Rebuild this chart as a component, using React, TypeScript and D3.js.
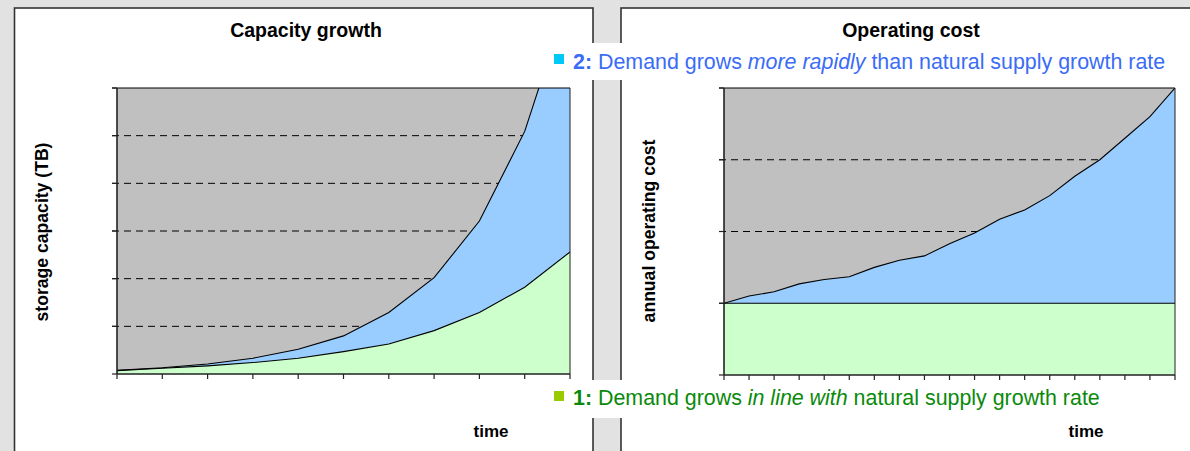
import React from "react";
import * as d3 from "d3";

// ---- Data ----
// Left chart: capacity growth (11 time steps)
const capTime = [0, 1, 2, 3, 4, 5, 6, 7, 8, 9, 10];
const capInLine = [0.07, 0.12, 0.17, 0.24, 0.33, 0.47, 0.63, 0.91, 1.29, 1.82, 2.56];
const capRapid = [0.08, 0.13, 0.21, 0.33, 0.52, 0.8, 1.29, 2.02, 3.21, 5.09, 8.0];
const capMax = 6;
const capGrid = [1, 2, 3, 4, 5];

// Right chart: operating cost (19 time steps)
const costTime = d3.range(19);
const costInLine = [1, 1, 1, 1, 1, 1, 1, 1, 1, 1, 1, 1, 1, 1, 1, 1, 1, 1, 1];
const costRapid = [1.0, 1.1, 1.16, 1.27, 1.33, 1.37, 1.5, 1.6, 1.66, 1.83, 1.98, 2.17, 2.3, 2.5, 2.77, 3.0, 3.3, 3.6, 4.0];
const costMax = 4;
const costGrid = [1, 2, 3];

const titles = ["Capacity growth", "Operating cost"];
const yLabels = ["storage capacity (TB)", "annual operating cost"];
const xLabel = "time";

const FONT = "'Liberation Sans', Arial, Helvetica, sans-serif";
const GRAY = "#c0c0c0";
const BLUE = "#99ccff";
const GREEN = "#ccffcc";

type ChartProps = {
  id: string;
  x0: number; x1: number; y0: number; y1: number;
  times: number[]; lower: number[]; upper: number[];
  maxV: number; grid: number[];
};

function AreaChart({ id, x0, x1, y0, y1, times, lower, upper, maxV, grid }: ChartProps) {
  const x = d3.scaleLinear().domain([times[0], times[times.length - 1]]).range([x0, x1]);
  const y = d3.scaleLinear().domain([0, maxV]).range([y1, y0]);
  const areaUpper = d3.area<number>().x((_, i) => x(times[i])).y0(y(0)).y1((d) => y(d));
  const lineGen = d3.line<number>().x((_, i) => x(times[i])).y((d) => y(d));
  const yTicks = d3.range(0, maxV + 1);
  return (
    <g>
      <defs>
        <clipPath id={id}>
          <rect x={x0} y={y0} width={x1 - x0} height={y1 - y0} />
        </clipPath>
      </defs>
      <rect x={x0} y={y0} width={x1 - x0} height={y1 - y0} fill={GRAY} />
      {grid.map((g) => (
        <line key={g} x1={x0 - 5} x2={x1} y1={y(g)} y2={y(g)} stroke="#000" strokeWidth={1} strokeDasharray="7,5" />
      ))}
      <g clipPath={`url(#${id})`}>
        <path d={areaUpper(upper) || ""} fill={BLUE} />
        <path d={areaUpper(lower) || ""} fill={GREEN} />
        <path d={lineGen(upper) || ""} fill="none" stroke="#000" strokeWidth={1.1} />
        <path d={lineGen(lower) || ""} fill="none" stroke="#000" strokeWidth={1.1} />
      </g>
      {/* plot border top/right */}
      <line x1={x0 - 5} x2={x1} y1={y0} y2={y0} stroke="#000" strokeWidth={1} />
      <line x1={x1} x2={x1} y1={y0} y2={y1} stroke="#222" strokeWidth={1} />
      {/* axes */}
      <line x1={x0} x2={x0} y1={y0} y2={y1} stroke="#222" strokeWidth={1.6} />
      <line x1={x0} x2={x1} y1={y1} y2={y1} stroke="#222" strokeWidth={1.6} />
      {yTicks.map((t) => (
        <line key={"yt" + t} x1={x0 - 5} x2={x0} y1={y(t)} y2={y(t)} stroke="#222" strokeWidth={1.2} />
      ))}
      {times.map((t) => (
        <line key={"xt" + t} x1={x(t)} x2={x(t)} y1={y1} y2={y1 + 5} stroke="#222" strokeWidth={1.2} />
      ))}
    </g>
  );
}

export default function App() {
  const W = 1190, H = 451;
  return (
    <svg width={W} height={H} style={{ position: "absolute", left: 0, top: 0 }} fontFamily={FONT}>
      <rect x={0} y={0} width={W} height={H} fill="#e2e2e2" />
      {/* panels */}
      <rect x={14.5} y={8} width={578.5} height={460} fill="#fff" stroke="#333" strokeWidth={1.6} />
      <rect x={621} y={8} width={600} height={460} fill="#fff" stroke="#333" strokeWidth={1.6} />

      {/* titles */}
      <text x={306} y={37} textAnchor="middle" fontWeight="bold" fontSize={19.5} fill="#000">{titles[0]}</text>
      <text x={911} y={37} textAnchor="middle" fontWeight="bold" fontSize={19.5} fill="#000">{titles[1]}</text>

      {/* y labels */}
      <text transform="translate(48,232) rotate(-90)" textAnchor="middle" fontWeight="bold" fontSize={17.6} fill="#000">{yLabels[0]}</text>
      <text transform="translate(655,231) rotate(-90)" textAnchor="middle" fontWeight="bold" fontSize={17.6} fill="#000">{yLabels[1]}</text>

      {/* x labels */}
      <text x={491} y={437} textAnchor="middle" fontWeight="bold" fontSize={17} fill="#000">{xLabel}</text>
      <text x={1086} y={437} textAnchor="middle" fontWeight="bold" fontSize={17} fill="#000">{xLabel}</text>

      <AreaChart id="clipL" x0={117} x1={570} y0={88} y1={374} times={capTime} lower={capInLine} upper={capRapid} maxV={capMax} grid={capGrid} />
      <AreaChart id="clipR" x0={724} x1={1175} y0={88} y1={375} times={costTime} lower={costInLine} upper={costRapid} maxV={costMax} grid={costGrid} />

      {/* legend bands */}
      <rect x={545} y={43} width={640} height={37} fill="#fff" />
      <rect x={545} y={380} width={640} height={38} fill="#fff" />
      <rect x={554} y={54} width={10} height={10} fill="#00c8f8" />
      <rect x={554} y={391} width={10} height={10} fill="#99cc00" />
      <text x={573} y={68.5} fontSize={21.4} fill="#3a6cf6">
        <tspan fontWeight="bold">2:</tspan> Demand grows <tspan fontStyle="italic">more rapidly</tspan> than natural supply growth rate
      </text>
      <text x={573} y={405} fontSize={21.4} fill="#0a8a0a">
        <tspan fontWeight="bold">1:</tspan> Demand grows <tspan fontStyle="italic">in line with</tspan> natural supply growth rate
      </text>
    </svg>
  );
}
